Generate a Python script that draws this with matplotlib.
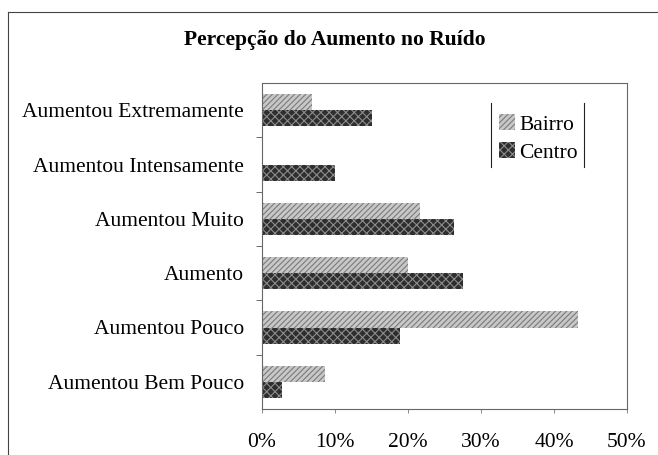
import numpy as np
import matplotlib.pyplot as plt
from matplotlib.lines import Line2D
from matplotlib.ticker import FixedLocator, PercentFormatter

plt.rcParams['font.family'] = ['Liberation Serif', 'DejaVu Serif']
plt.rcParams['hatch.linewidth'] = 0.8

# data (percent)
categories = ['Aumentou Extremamente', 'Aumentou Intensamente', 'Aumentou Muito',
              'Aumento', 'Aumentou Pouco', 'Aumentou Bem Pouco']
bairro = [6.8, 0.0, 21.7, 20.0, 43.3, 8.6]
centro = [15.0, 10.0, 26.3, 27.5, 18.9, 2.8]
x_ticks = [0, 10, 20, 30, 40, 50]

W, H = 658, 455
fig = plt.figure(figsize=(W / 100, H / 100), dpi=100)
ax = fig.add_axes([262 / W, 1 - 409 / H, 365 / W, 326 / H])

pos = np.arange(len(categories))
h = 0.3
ax.barh(pos - h / 2, bairro, height=h, color='#c8c8c8', edgecolor='#7a7a7a',
        hatch='//////', linewidth=0, label='Bairro')
ax.barh(pos + h / 2, centro, height=h, color='#2e2e2e', edgecolor='#8c8c8c',
        hatch='xxxx', linewidth=0, label='Centro')

ax.set_ylim(len(categories) - 0.5, -0.5)
ax.set_xlim(0, 50)
ax.set_yticks(pos)
ax.set_yticklabels(categories, fontsize=15.5)
ax.yaxis.set_minor_locator(FixedLocator(pos[:-1] + 0.5))
ax.tick_params(axis='y', which='major', length=0, pad=13)
ax.tick_params(axis='y', which='minor', length=4, width=0.6, color='#555')
ax.set_xticks(x_ticks)
ax.xaxis.set_major_formatter(PercentFormatter(decimals=0))
ax.tick_params(axis='x', length=3, width=0.6, color='#777', pad=14, labelsize=15.5)

for sp in ax.spines.values():
    sp.set_linestyle((0, (2, 1)))
    sp.set_color('#666')
    sp.set_linewidth(0.8)

leg = ax.legend(loc='upper right', bbox_to_anchor=((595 - 262) / 365, (409 - 97) / 326),
                fontsize=15.5, frameon=False,
                handlelength=0.75, handleheight=0.75, handletextpad=0.2,
                borderpad=0.3, labelspacing=0.35)
# legend box shows only its side edges
for lx in (491, 584):
    fig.add_artist(Line2D([lx / W] * 2, [1 - 103 / H, 1 - 167 / H], color='#222', lw=0.8))

fig.text(335 / W, 1 - 40 / H, 'Percepção do Aumento no Ruído',
         ha='center', va='center', fontsize=15.5, fontweight='bold')

# outer chart frame (top and left edges)
fig.add_artist(Line2D([8 / W, 1], [1 - 12 / H] * 2, color='#444', lw=0.8))
fig.add_artist(Line2D([8 / W] * 2, [1 - 12 / H, 0], color='#444', lw=0.8))

fig.savefig('out.png', dpi=100)
